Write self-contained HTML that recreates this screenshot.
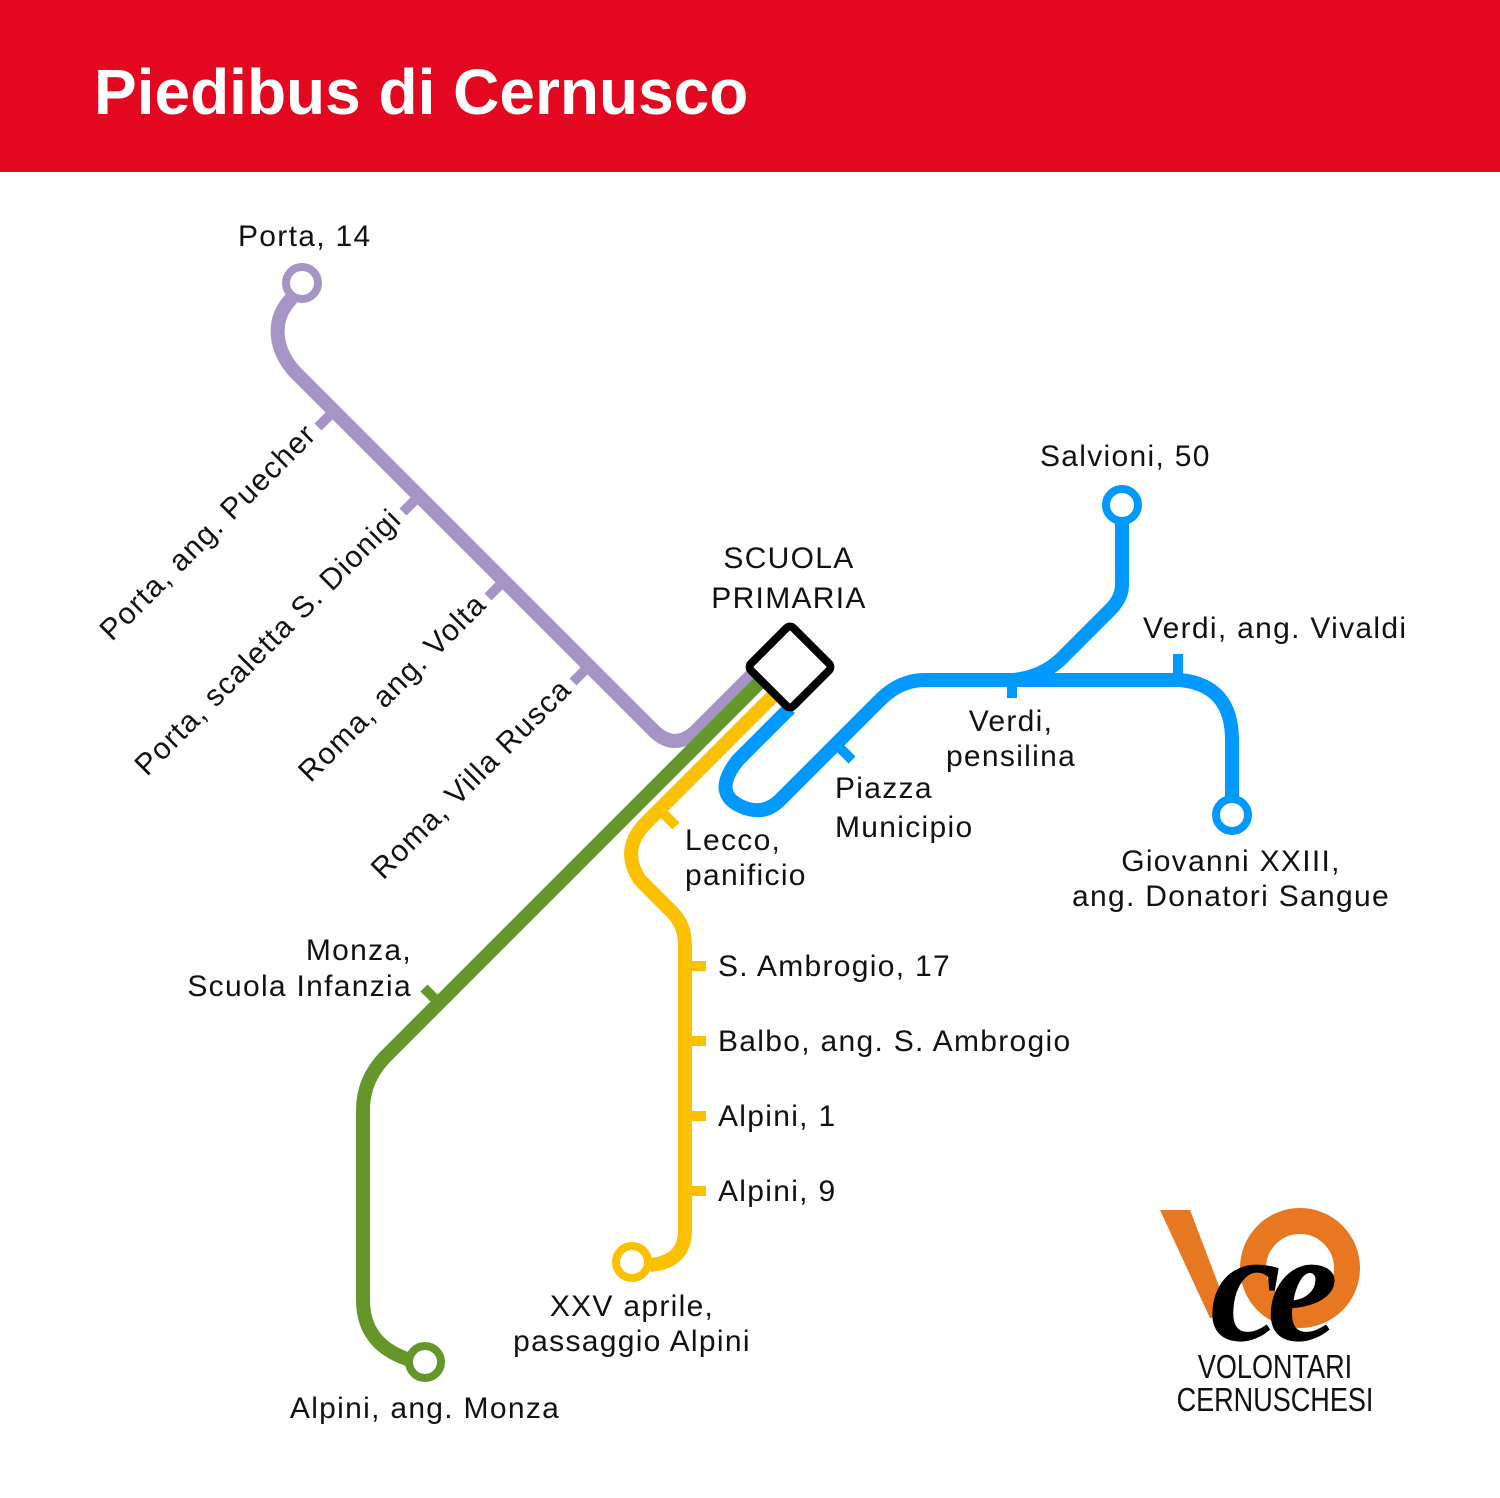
<!DOCTYPE html>
<html><head><meta charset="utf-8"><style>
html,body{margin:0;padding:0;background:#fff}
svg{display:block}
text{font-family:"Liberation Sans",sans-serif;fill:#111}
</style></head><body>
<svg width="1500" height="1498" viewBox="0 0 1500 1498" xmlns="http://www.w3.org/2000/svg">
<rect x="0" y="0" width="1500" height="172" fill="#E30820"/>
<text x="94" y="114" font-size="64" font-weight="bold" style="fill:#fff">Piedibus di Cernusco</text>

<g fill="none" stroke-width="14" stroke-linecap="butt" stroke-linejoin="round">
<path d="M292,298 C270,320 275,350 295,372 L655,732 Q675,750 695,732 L755,672" stroke="#A594C5"/>
<g stroke="#A594C5" stroke-width="10">
<line x1="334" y1="411" x2="318" y2="427"/><line x1="419" y1="496" x2="403" y2="512"/>
<line x1="504" y1="581" x2="488" y2="597"/><line x1="589" y1="666" x2="573" y2="682"/>
</g>
<circle cx="302" cy="283" r="16" stroke="#A594C5" stroke-width="8" fill="#fff"/>
<path d="M762,680 L385,1057 Q363,1080 363,1110 L363,1300 Q363,1345 410,1360" stroke="#659629"/>
<line x1="424" y1="988" x2="440" y2="1004" stroke="#659629" stroke-width="10"/>
<circle cx="425" cy="1362" r="16" stroke="#659629" stroke-width="8" fill="#fff"/>
<path d="M777,692 L645,824 Q620,850 640,880 L672,912 Q685,925 685,945 L685,1230 Q685,1262 650,1265" stroke="#FBC000"/>
<g stroke="#FBC000" stroke-width="10">
<line x1="660" y1="810" x2="676" y2="826"/>
<line x1="685" y1="966" x2="706" y2="966"/><line x1="685" y1="1041" x2="706" y2="1041"/>
<line x1="685" y1="1116" x2="706" y2="1116"/><line x1="685" y1="1191" x2="706" y2="1191"/>
</g>
<circle cx="632" cy="1262" r="16" stroke="#FBC000" stroke-width="8" fill="#fff"/>
<path d="M790,708 L738,760 Q710,795 745,808 Q765,815 780,800 L880,700 Q900,680 925,680 L1180,680 Q1232,685 1232,740 L1232,798" stroke="#0099FF"/>
<path d="M1122,522 L1122,585 Q1122,598 1110,610 L1060,660 Q1040,678 1012,680" stroke="#0099FF"/>
<g stroke="#0099FF" stroke-width="10">
<line x1="836" y1="744" x2="852" y2="760"/>
<line x1="1012" y1="680" x2="1012" y2="698"/>
<line x1="1178" y1="680" x2="1178" y2="654"/>
</g>
<circle cx="1122" cy="505" r="16" stroke="#0099FF" stroke-width="8" fill="#fff"/>
<circle cx="1232" cy="815" r="16" stroke="#0099FF" stroke-width="8" fill="#fff"/>
</g>
<rect x="760" y="637" width="60" height="60" rx="5" transform="rotate(45 790 667)" fill="#fff" stroke="#000" stroke-width="8"/>

<g font-size="30" letter-spacing="1.3">
<text x="238" y="246">Porta, 14</text>
<text x="1040" y="466">Salvioni, 50</text>
<text x="1143" y="638">Verdi, ang. Vivaldi</text>
<text x="789" y="568" text-anchor="middle">SCUOLA</text>
<text x="789" y="608" text-anchor="middle">PRIMARIA</text>
<text x="1011" y="731" text-anchor="middle">Verdi,</text>
<text x="1011" y="766" text-anchor="middle">pensilina</text>
<text x="835" y="798">Piazza</text>
<text x="835" y="837">Municipio</text>
<text x="685" y="850">Lecco,</text>
<text x="685" y="885">panificio</text>
<text x="1231" y="871" text-anchor="middle">Giovanni XXIII,</text>
<text x="1231" y="906" text-anchor="middle">ang. Donatori Sangue</text>
<text x="718" y="976">S. Ambrogio, 17</text>
<text x="718" y="1051">Balbo, ang. S. Ambrogio</text>
<text x="718" y="1126">Alpini, 1</text>
<text x="718" y="1201">Alpini, 9</text>
<text x="412" y="960" text-anchor="end">Monza,</text>
<text x="412" y="996" text-anchor="end">Scuola Infanzia</text>
<text x="632" y="1316" text-anchor="middle">XXV aprile,</text>
<text x="632" y="1351" text-anchor="middle">passaggio Alpini</text>
<text x="425" y="1418" text-anchor="middle">Alpini, ang. Monza</text>
<text transform="translate(318,436) rotate(-45)" text-anchor="end">Porta, ang. Puecher</text>
<text transform="translate(403,521) rotate(-45)" text-anchor="end">Porta, scaletta S. Dionigi</text>
<text transform="translate(488,606) rotate(-45)" text-anchor="end">Roma, ang. Volta</text>
<text transform="translate(573,691) rotate(-45)" text-anchor="end">Roma, Villa Rusca</text>
</g>

<g>
<polygon points="1160,1210 1190,1210 1230,1315 1210,1318" fill="#E87722"/>
<circle cx="1300" cy="1268" r="47" fill="none" stroke="#E87722" stroke-width="26"/>
<text x="1210" y="1340" font-style="italic" font-weight="bold" font-size="160" style="fill:#000;font-family:'Liberation Serif',serif" letter-spacing="-14">ce</text>
<text x="1275" y="1378" text-anchor="middle" font-size="33" transform="translate(1275 0) scale(0.82 1) translate(-1275 0)" style="fill:#111">VOLONTARI</text>
<text x="1275" y="1411" text-anchor="middle" font-size="33" transform="translate(1275 0) scale(0.82 1) translate(-1275 0)" style="fill:#111">CERNUSCHESI</text>
</g>
</svg>
</body></html>
